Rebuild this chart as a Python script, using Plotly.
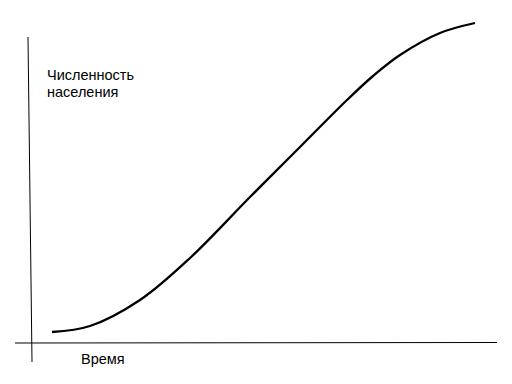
import plotly.graph_objects as go

# Curve values (time vs population)
time_vals = [52, 90, 140, 190, 250, 300, 347, 373, 400, 440, 475]
population_vals = [52, 58, 84, 126, 187, 237, 284, 308, 329, 351, 361]

# Axis lines
y_axis_x = [28, 32]
y_axis_y = [347, 22]
x_axis_x = [15, 497]
x_axis_y = [41, 41.5]

y_label_lines = ["Численность", "населения"]
x_label = "Время"

fig = go.Figure()
fig.add_trace(go.Scatter(x=y_axis_x, y=y_axis_y, mode="lines",
                         line=dict(color="black", width=1), hoverinfo="skip"))
fig.add_trace(go.Scatter(x=x_axis_x, y=x_axis_y, mode="lines",
                         line=dict(color="black", width=1), hoverinfo="skip"))
fig.add_trace(go.Scatter(x=time_vals, y=population_vals, mode="lines",
                         line=dict(color="black", width=2.3, shape="spline", smoothing=1.0)))

font = dict(family="Liberation Sans, Arial, sans-serif", size=14.5, color="black")
fig.add_annotation(x=45, y=384 - 74.5, text=y_label_lines[0], showarrow=False,
                   xanchor="left", yanchor="middle", font=font)
fig.add_annotation(x=45, y=384 - 91.5, text=y_label_lines[1], showarrow=False,
                   xanchor="left", yanchor="middle", font=font)
fig.add_annotation(x=79, y=384 - 359, text=x_label, showarrow=False,
                   xanchor="left", yanchor="middle", font=font)

fig.update_layout(
    width=512, height=384,
    margin=dict(l=0, r=0, t=0, b=0),
    paper_bgcolor="white", plot_bgcolor="white",
    showlegend=False,
    xaxis=dict(range=[0, 512], visible=False, fixedrange=True),
    yaxis=dict(range=[0, 384], visible=False, fixedrange=True),
)

fig.write_html("out.html")
